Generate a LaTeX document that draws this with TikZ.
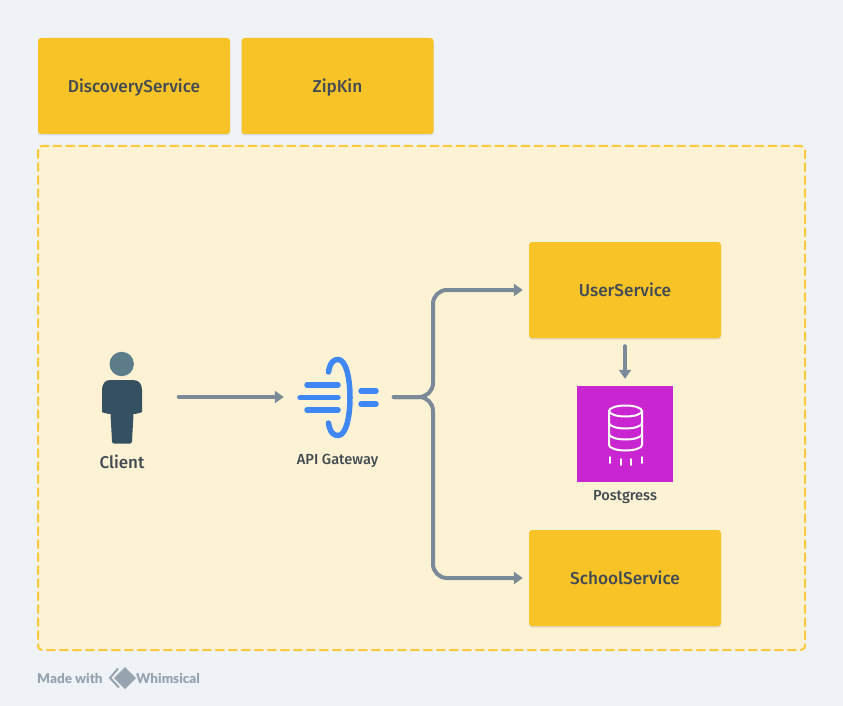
\documentclass[tikz,border=0pt]{standalone}
\usepackage{fontspec}
\setmainfont{Fira Sans}[BoldFont={Fira Sans Medium}]
\newfontfamily\brandfont{Lato}[BoldFont={Lato Black}]
\usetikzlibrary{arrows.meta,shadows}
\definecolor{pagebg}{HTML}{EFF3F8}
\definecolor{svc}{HTML}{F8C326}
\definecolor{zonefill}{HTML}{FDF2D3}
\definecolor{zoneline}{HTML}{FBC93D}
\definecolor{ink}{HTML}{424B53}
\definecolor{wire}{HTML}{7B8A99}
\definecolor{gwblue}{HTML}{3F87F5}
\definecolor{dbpurple}{HTML}{C925D1}
\definecolor{brand}{HTML}{97A3AE}
\tikzset{
  x=1pt,y=-1pt,
  service/.style={fill=svc,rounded corners=3pt,minimum width=192pt,minimum height=96pt,inner sep=0pt,
    text height=14pt,text depth=0.2pt,
    font=\fontsize{17.2}{20}\selectfont\bfseries,text=ink,
    drop shadow={shadow xshift=0pt,shadow yshift=-1.5pt,opacity=0.10,fill=black}},
  caption/.style={text=ink,inner sep=0pt,font=\fontsize{14.6}{16}\selectfont\bfseries},
  iconbox/.style={inner sep=0pt,draw=none},
  wireline/.style={draw=wire,line width=4pt,line cap=round,-{Triangle[length=9pt,width=12pt]}},
  gwline/.style={draw=gwblue,line width=5.5pt,line cap=round},
  dbline/.style={draw=white,line width=2pt,line cap=round},
}
\begin{document}
\begin{tikzpicture}
\useasboundingbox (0,0) rectangle (843,706);
\fill[pagebg] (0,0) rectangle (843,706);
% zone
\draw[fill=zonefill,draw=zoneline,line width=2pt,rounded corners=4pt,dash pattern=on 8pt off 5pt,line cap=round]
  (38,146) rectangle (805,650);
% services
\node[service] (discovery) at (134,86) {DiscoveryService};
\node[service] (zipkin) at (337.5,86) {ZipKin};
\node[service] (user) at (625,290) {UserService};
\node[service] (school) at (625,578) {SchoolService};
% client icon
\node[iconbox,minimum width=41pt,minimum height=64pt] (client) at (121.5,397) {};
\fill[color={rgb,255:red,91;green,124;blue,136}] (121.7,364) circle (12.2);
\fill[color={rgb,255:red,52;green,80;blue,97}]
  (110,380) -- (133,380) .. controls (139,380) and (142,384) .. (142,390)
  -- (142,412) .. controls (140,413) and (136,414) .. (133.5,414)
  -- (132,441) .. controls (132,443) and (131,443.5) .. (130,443.5)
  -- (114,443.5) .. controls (113,443.5) and (112,443) .. (112,441)
  -- (110.5,414) .. controls (108,414) and (104,413) .. (102,412)
  -- (102,390) .. controls (102,384) and (105,380) .. (110,380) -- cycle;
\node[inner sep=0pt,text=ink,font=\fontsize{17}{20}\selectfont\bfseries] (clientlabel) at (122,462) {Client};
% gateway icon
\node[iconbox,minimum width=80pt,minimum height=80pt] (gw) at (337,397) {};
\draw[gwline] (328.5,372) .. controls (330,362) and (334,359.5) .. (338,359.5)
  .. controls (346,359.5) and (350,378) .. (350,397.5)
  .. controls (350,417) and (346,435.5) .. (338,435.5)
  .. controls (334,435.5) and (330,433) .. (328.5,423);
\draw[gwline] (307,385) -- (338,385);
\draw[gwline] (300,397.5) -- (338,397.5);
\draw[gwline] (307,410) -- (338,410);
\draw[gwline] (361,391) -- (376,391);
\draw[gwline] (361,404) -- (376,404);
\node[caption] (gwlabel) at (337.5,461) {API Gateway};
% database icon
\node[iconbox,fill=dbpurple,minimum width=96pt,minimum height=96pt] (db) at (625,434) {};
\draw[dbline] (625.5,411) ellipse (16.5 and 5.5);
\draw[dbline] (609,411) -- (609,445) arc[start angle=180,end angle=360,x radius=16.5,y radius=-5.5] -- (642,411);
\draw[dbline] (609,423) arc[start angle=180,end angle=360,x radius=16.5,y radius=-5.5];
\draw[dbline] (609,434) arc[start angle=180,end angle=360,x radius=16.5,y radius=-5.5];
\draw[dbline] (609.5,457) -- (609.5,463);
\draw[dbline] (620.5,459) -- (620.5,465);
\draw[dbline] (631,459) -- (631,465);
\draw[dbline] (642,457) -- (642,463);
\node[caption] (dblabel) at (625,497) {Postgress};
% connectors
\coordinate (bus) at (433,397);
\draw[wireline,shorten <=36.5pt,shorten >=13pt] (client.east) -- (gw.west);
\draw[wireline,rounded corners=14pt,shorten <=16.5pt,shorten >=6pt] (gw.east) -- (bus) |- (user.west);
\draw[wireline,rounded corners=14pt,shorten <=16.5pt,shorten >=6pt] (gw.east) -- (bus) |- (school.west);
\draw[wireline,shorten <=8pt,shorten >=7pt] (user.south) -- (db.north);
% brand
\node[anchor=west,inner sep=0pt,text=brand,font=\brandfont\fontsize{13.5}{16}\selectfont\bfseries] (made) at (37,678) {Made with};
\fill[brand] (125,667) -- (136,678) -- (125,689) -- (114,678) -- cycle;
\draw[brand,line width=2pt] (118,668.5) -- (110,678) -- (119,687.5);
\node[anchor=west,inner sep=0pt,text=brand,font=\brandfont\fontsize{13.5}{16}\selectfont\bfseries] (whim) at (136,678) {Whimsical};
\end{tikzpicture}
\end{document}
